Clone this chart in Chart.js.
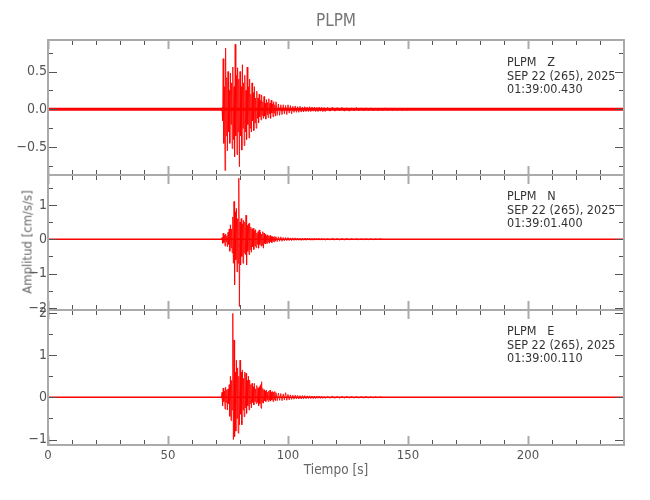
<!DOCTYPE html>
<html>
<head>
<meta charset="utf-8">
<script src="https://cdn.jsdelivr.net/npm/chart.js@4.4.0/dist/chart.umd.min.js"></script>
<style>
  html, body { margin: 0; padding: 0; background: #fff; }
  #wrap { position: relative; width: 650px; height: 500px; overflow: hidden; }
  canvas { position: absolute; left: 0; top: 0; }
  .txt { position: absolute; font-family: 'Liberation Sans Narrow', 'DejaVu Sans Condensed', sans-serif; white-space: pre; }
  .ann { font-size: 12.5px; line-height: 13.5px; color: #333; left: 507px; }
</style>
</head>
<body>
<div id="wrap">
  <canvas id="c1" width="650" height="500"></canvas>
  <canvas id="c2" width="650" height="500"></canvas>
  <canvas id="c3" width="650" height="500"></canvas>
  <div class="txt" style="left:0;width:672px;top:10px;text-align:center;font-size:17px;color:#777;">PLPM</div>
  <div class="txt" style="left:0;width:672px;top:461px;text-align:center;font-size:13.5px;color:#666;">Tiempo [s]</div>
  <div class="txt" style="left:27px;top:242px;font-size:13px;color:#666;transform:translate(-50%,-50%) rotate(-90deg);">Amplitud [cm/s/s]</div>
  <div class="txt ann" style="top:55px;">PLPM   Z
SEP 22 (265), 2025
01:39:00.430</div>
  <div class="txt ann" style="top:189px;">PLPM   N
SEP 22 (265), 2025
01:39:01.400</div>
  <div class="txt ann" style="top:324px;">PLPM   E
SEP 22 (265), 2025
01:39:00.110</div>
</div>
<script>
// ---- Data (time in s, amplitude in cm/s/s) ----
const timeRange = [0, 240];
const xTickLabels = [0, 50, 100, 150, 200];

// Three recorded windows per trace: [start time, sample interval]
const strongWin = [72, 0.25];   // strong motion
const lateWin = [95.5, 0.5];    // late S / surface waves
const codaWin = [115.5, 1];     // coda

const zStrong = [0.015,-0.02,0.02,-0.15,0.67,-0.45,0.30,-0.81,0.81,-0.35,0.42,-0.55,0.50,-0.30,0.25,-0.45,0.48,-0.20,0.35,-0.52,
  0.56,-0.40,0.30,-0.63,0.86,-0.35,0.45,-0.60,0.55,-0.30,0.40,-0.76,0.50,-0.35,0.30,-0.54,0.59,-0.25,0.35,-0.48,
  0.45,-0.30,0.25,-0.40,0.56,-0.20,0.30,-0.38,0.40,-0.25,0.20,-0.30,0.35,-0.15,0.22,-0.28,0.30,-0.18,0.15,-0.25,
  0.24,-0.12,0.15,-0.18,0.20,-0.10,0.12,-0.14,0.19,-0.08,0.10,-0.12,0.17,-0.09,0.08,-0.13,0.13,-0.07,0.09,-0.11,
  0.14,-0.06,0.08,-0.12,0.12,-0.05,0.07,-0.10,0.10,-0.05,0.06,-0.09,0.10];
const zLate = [-0.08,0.07,-0.08,0.06,-0.07,0.06,-0.06,0.05,-0.07,0.06,-0.05,0.05,-0.06,0.04,-0.04,0.045,-0.04,0.035,-0.04,0.04,
  -0.035,0.03,-0.035,0.035,-0.03,0.03,-0.03,0.035,-0.03,0.03,-0.025,0.03,-0.03,0.025,-0.03,0.03,-0.025,0.025,-0.03,0.025];
const zCoda = [-0.03,0.025,-0.025,0.03,-0.025,0.025,-0.02,0.025,-0.025,0.02,-0.025,0.02,-0.02,0.025,-0.02,0.02,-0.02,0.02,
  -0.018,0.02,-0.02,0.018,-0.02,0.018,-0.018,0.02,-0.018,0.018,-0.018,0.018,-0.016,0.018,-0.016,0.016,-0.016];

const nStrong = [0.01,-0.01,0.05,-0.12,0.18,-0.10,0.12,-0.20,0.15,-0.08,0.10,-0.22,0.20,-0.15,0.30,-0.35,0.42,-0.25,0.30,-0.40,
  0.65,-0.70,1.10,-1.33,0.80,-0.60,0.90,-0.95,0.60,-0.70,1.78,-1.96,0.50,-0.75,0.60,-0.50,0.45,-0.70,0.55,-0.40,
  0.50,-0.45,0.70,-0.75,0.40,-0.35,0.45,-0.45,0.47,-0.30,0.35,-0.38,0.30,-0.22,0.32,-0.30,0.25,-0.20,0.28,-0.25,
  0.18,-0.15,0.22,-0.26,0.27,-0.15,0.20,-0.20,0.15,-0.18,0.22,-0.26,0.18,-0.12,0.14,-0.13,0.10,-0.12,0.13,-0.08,
  0.10,-0.12,0.11,-0.07,0.08,-0.10,0.08,-0.06,0.07,-0.08,0.08,-0.05,0.07];
const nLate = [-0.07,0.07,-0.06,0.07,-0.06,0.05,-0.05,0.05,-0.04,0.05,-0.04,0.04,-0.04,0.04,-0.035,0.04,-0.03,0.035,-0.03,0.03,
  -0.035,0.03,-0.03,0.035,-0.03,0.03,-0.025,0.03,-0.03,0.025,-0.03,0.03,-0.025,0.025,-0.025,0.03,-0.025,0.025,-0.025,0.02];
const nCoda = [-0.025,0.02,-0.02,0.025,-0.02,0.02,-0.02,0.02,-0.018,0.02,-0.015,0.018,-0.015,0.015,-0.015,0.015,-0.012,0.015,
  -0.012,0.012,-0.012,0.012,-0.01,0.012,-0.01];

const eStrong = [0.01,-0.02,0.12,-0.20,0.22,-0.10,0.15,-0.28,0.24,-0.12,0.18,-0.30,0.20,-0.15,0.30,-0.45,0.50,-0.55,0.40,-0.30,
  1.99,-1.00,1.36,-0.93,0.60,-0.80,0.88,-0.50,0.70,-0.85,0.50,-0.65,0.88,-0.40,0.60,-0.65,0.65,-0.30,0.45,-0.46,
  0.60,-0.25,0.57,-0.38,0.40,-0.20,0.50,-0.30,0.41,-0.15,0.30,-0.25,0.33,-0.12,0.25,-0.18,0.33,-0.10,0.20,-0.15,
  0.28,-0.12,0.22,-0.20,0.25,-0.15,0.30,-0.26,0.37,-0.12,0.21,-0.14,0.18,-0.08,0.15,-0.10,0.17,-0.06,0.12,-0.10,
  0.15,-0.07,0.17,-0.09,0.12,-0.06,0.14,-0.10,0.12,-0.05,0.14,-0.08,0.11];
const eLate = [-0.08,0.10,-0.07,0.09,-0.08,0.08,-0.06,0.11,-0.07,0.07,-0.06,0.06,-0.05,0.05,-0.045,0.05,-0.04,0.045,-0.04,0.04,
  -0.04,0.04,-0.035,0.04,-0.035,0.035,-0.03,0.035,-0.03,0.03,-0.03,0.03,-0.03,0.03,-0.025,0.03,-0.025,0.025,-0.025,0.02];
const eCoda = [-0.025,0.02,-0.02,0.025,-0.02,0.02,-0.02,0.02,-0.018,0.02,-0.015,0.018,-0.015,0.015,-0.015,0.015,-0.012,0.015,
  -0.012,0.012,-0.012,0.012,-0.01,0.012,-0.01];

// Background (pre-event / post-coda) level of each trace
const baseLevel = [0, 0];

// Axis ranges and ticks for each panel
const zRange = [-0.869, 0.917], zMajor = 0.5, zMinor = 0.25;
const nRange = [-2.06, 1.87],   nMajor = 1,   nMinor = 0.5;
const eRange = [-1.13, 2.07],   eMajor = 1,   eMinor = 0.5;

// ---- Build chart datasets ----
function windowPoints(win, arr) {
  return arr.map((v, i) => ({ x: win[0] + i * win[1], y: v }));
}
function tracePoints(strong, late, coda) {
  return windowPoints(strongWin, strong).concat(windowPoints(lateWin, late), windowPoints(codaWin, coda));
}
function basePoints() {
  return [{ x: timeRange[0], y: baseLevel[0] }, { x: timeRange[1], y: baseLevel[1] }];
}

const FONT = "'Liberation Sans Narrow', 'DejaVu Sans Condensed', sans-serif";

const framePlugin = {
  id: 'frame',
  afterDatasetsDraw(chart, args, opts) {
    const { ctx, chartArea: a, scales } = chart;
    const xs = scales.x, ys = scales.y;
    ctx.save();
    for (let v = timeRange[0]; v <= timeRange[1] + 1e-9; v += 10) {
      const px = Math.round(xs.getPixelForValue(v)) + 0.5;
      const major = v % 50 === 0;
      const len = major ? 9 : 5;
      ctx.strokeStyle = major ? '#aaa' : '#555';
      ctx.lineWidth = major ? 2 : 1;
      ctx.beginPath();
      ctx.moveTo(px, a.top); ctx.lineTo(px, a.top + len);
      ctx.moveTo(px, a.bottom); ctx.lineTo(px, a.bottom - len);
      ctx.stroke();
    }
    const step = opts.minor, maj = opts.major;
    for (let v = Math.ceil(ys.min / step) * step; v <= ys.max + 1e-9; v += step) {
      const py = Math.round(ys.getPixelForValue(v)) + 0.5;
      const r = v / maj;
      const major = Math.abs(r - Math.round(r)) < 1e-6;
      const len = major ? 9 : 5;
      ctx.strokeStyle = '#555';
      ctx.lineWidth = 1;
      ctx.beginPath();
      ctx.moveTo(a.left, py); ctx.lineTo(a.left + len, py);
      ctx.moveTo(a.right, py); ctx.lineTo(a.right - len, py);
      ctx.stroke();
    }
    ctx.strokeStyle = '#aaa';
    ctx.lineWidth = 2;
    ctx.strokeRect(a.left, a.top, a.right - a.left, a.bottom - a.top);
    ctx.restore();
  }
};

function fmtDec(v) { const s = Math.abs(v).toFixed(1); return (v < -1e-9 ? '\u2212' : '') + s; }
function fmtInt(v) { const s = Math.abs(Math.round(v)).toString(); return (v < -1e-9 ? '\u2212' : '') + s; }

function makePanel(id, pts, baseWidth, range, major, minor, padTop, padBottom, showX, fmt) {
  return new Chart(document.getElementById(id), {
    type: 'scatter',
    data: {
      datasets: [
        { data: basePoints(), showLine: true, borderColor: '#ff0000', borderWidth: baseWidth, pointRadius: 0 },
        { data: pts, showLine: true, borderColor: 'rgba(255,0,0,0.85)', borderWidth: 1, pointRadius: 0, tension: 0 }
      ]
    },
    options: {
      responsive: false, animation: false, events: [],
      plugins: { legend: { display: false }, tooltip: { enabled: false }, frame: { major: major, minor: minor } },
      layout: { padding: { left: 0, right: 26, top: padTop, bottom: padBottom } },
      scales: {
        x: {
          type: 'linear', min: timeRange[0], max: timeRange[1], display: showX,
          grid: { display: false, drawTicks: false }, border: { display: false },
          afterBuildTicks(s) { s.ticks = xTickLabels.map(v => ({ value: v })); },
          ticks: { autoSkip: false, maxRotation: 0, color: '#555', font: { family: FONT, size: 13 }, padding: 3 },
          afterFit(s) { if (showX) s.height = 28; }
        },
        y: {
          type: 'linear', min: range[0], max: range[1],
          grid: { display: false, drawTicks: false }, border: { display: false },
          ticks: { stepSize: major, includeBounds: false, color: '#555', font: { family: FONT, size: 14 }, padding: 1, callback: fmt },
          afterFit(s) { s.width = 48; }
        }
      }
    },
    plugins: [framePlugin]
  });
}

makePanel('c1', tracePoints(zStrong, zLate, zCoda), 3, zRange, zMajor, zMinor, 40, 325, false, fmtDec);
makePanel('c2', tracePoints(nStrong, nLate, nCoda), 1.5, nRange, nMajor, nMinor, 175, 190, false, fmtInt);
makePanel('c3', tracePoints(eStrong, eLate, eCoda), 1.5, eRange, eMajor, eMinor, 310, 27, true, fmtInt);
</script>
</body>
</html>
